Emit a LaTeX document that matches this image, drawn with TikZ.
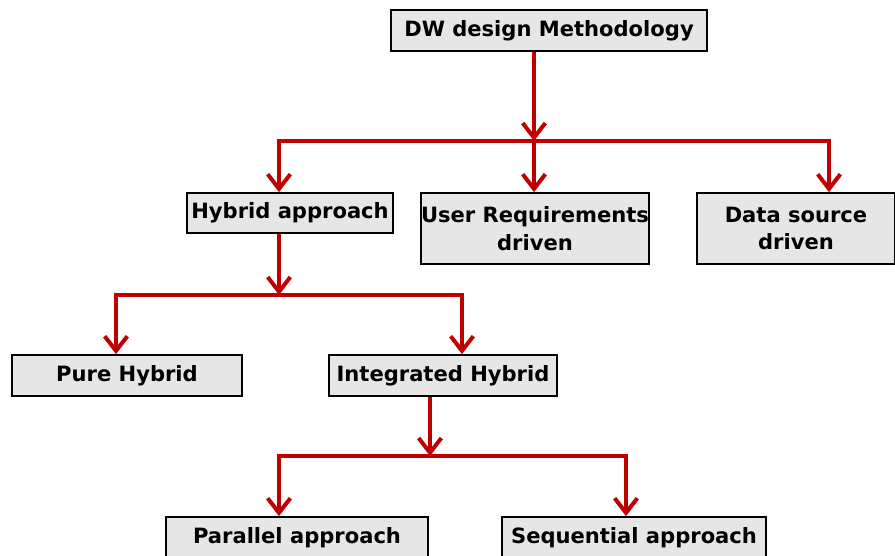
\documentclass[tikz,border=0pt]{standalone}
\usepackage{fontspec}
\setmainfont{DejaVu Sans}
\usetikzlibrary{arrows.meta}
\definecolor{linkred}{HTML}{C00000}
\definecolor{boxgray}{HTML}{E6E6E6}
\tikzset{
  box/.style={draw=black, fill=boxgray, line width=1.3pt, inner sep=0pt,
    font=\fontsize{15.8}{20.5}\selectfont\bfseries, align=center},
  link/.style={draw=linkred, line width=3pt, line cap=rect},
  drop/.style={draw=linkred, line width=3pt,
    -{Straight Barb[length=11pt, width=17pt, line width=3pt]}},
}
\begin{document}
\begin{tikzpicture}[x=0.75pt, y=-0.75pt]
\useasboundingbox (0,0) rectangle (895,556);
\clip (0,0) rectangle (895,556);

% boxes
\node[box, minimum width=316*0.75pt, minimum height=41*0.75pt] (top) at (549,30.5) {DW design Methodology};
\node[box, minimum width=206*0.75pt, minimum height=40*0.75pt] (hyb) at (290,213) {Hybrid approach};
\node[box, minimum width=228*0.75pt, minimum height=71*0.75pt] (usr) at (535,228.5) {User Requirements\\driven};
\node[box, minimum width=198*0.75pt, minimum height=71*0.75pt] (dat) at (796,228.5) {Data source\\driven};
\node[box, minimum width=230*0.75pt, minimum height=41*0.75pt] (pure) at (127,375.5) {Pure Hybrid};
\node[box, minimum width=228*0.75pt, minimum height=41*0.75pt] (integ) at (443,375.5) {Integrated Hybrid};
\node[box, minimum width=262*0.75pt, minimum height=41*0.75pt] (par) at (297,537.5) {Parallel approach};
\node[box, minimum width=264*0.75pt, minimum height=41*0.75pt] (seq) at (634,537.5) {Sequential approach};

% junctions on the buses
\coordinate (j1) at (534,141);
\coordinate (a1) at (279,141);
\coordinate (a2) at (534,141);
\coordinate (a3) at (829,141);
\coordinate (j2) at (279,295);
\coordinate (b1) at (116,295);
\coordinate (b2) at (462,295);
\coordinate (j3) at (430,456);
\coordinate (c1) at (279,456);
\coordinate (c2) at (626,456);

% level 1
\draw[drop] (top.south -| j1) -- (j1);
\draw[link] (a1) -- (a3);
\draw[drop] (a1) -- (a1 |- hyb.north);
\draw[drop] (a2) -- (a2 |- usr.north);
\draw[drop] (a3) -- (a3 |- dat.north);

% level 2
\draw[drop] (hyb.south -| j2) -- (j2);
\draw[link] (b1) -- (b2);
\draw[drop] (b1) -- (b1 |- pure.north);
\draw[drop] (b2) -- (b2 |- integ.north);

% level 3
\draw[drop] (integ.south -| j3) -- (j3);
\draw[link] (c1) -- (c2);
\draw[drop] (c1) -- (c1 |- par.north);
\draw[drop] (c2) -- (c2 |- seq.north);
\end{tikzpicture}
\end{document}
